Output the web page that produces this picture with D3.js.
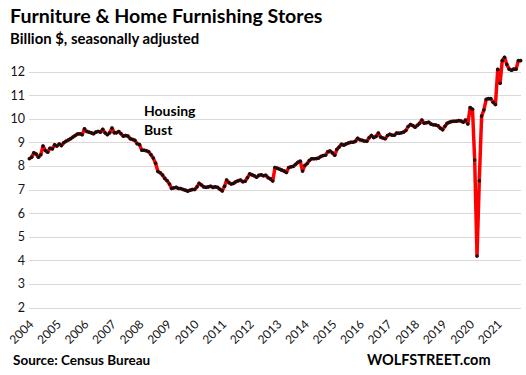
<!DOCTYPE html>
<html>
<head>
<meta charset="utf-8">
<script src="https://cdn.jsdelivr.net/npm/d3@7"></script>
<style>
  body { margin: 0; background: #fff; }
  svg text { font-family: Lato, "Open Sans", sans-serif; }
</style>
</head>
<body>
<div id="chart"></div>
<script>
// monthly sales, Jan 2004 .. Nov 2021, billion $
var startMonth = new Date(2004, 0, 1);
var sales = [
  8.30, 8.37, 8.55, 8.50, 8.37, 8.47, 8.84, 8.65, 8.58, 8.75, 8.72, 8.89,   // 2004
  8.84, 8.93, 8.86, 8.98, 9.04, 9.10, 9.15, 9.22, 9.29, 9.35, 9.36, 9.32,   // 2005
  9.57, 9.46, 9.43, 9.40, 9.36, 9.43, 9.46, 9.43, 9.55, 9.40, 9.32, 9.40,   // 2006
  9.60, 9.40, 9.40, 9.46, 9.36, 9.26, 9.29, 9.26, 9.15, 9.12, 9.08, 8.94,   // 2007
  8.90, 8.66, 8.66, 8.64, 8.60, 8.47, 8.33, 8.11, 7.76, 7.71, 7.61, 7.47,   // 2008
  7.37, 7.23, 7.04, 7.07, 7.09, 7.04, 7.04, 7.00, 6.97, 6.93, 6.97, 7.00,   // 2009
  7.00, 7.11, 7.26, 7.19, 7.11, 7.09, 7.11, 7.14, 7.09, 7.11, 7.09, 7.01,   // 2010
  6.94, 7.14, 7.40, 7.29, 7.23, 7.26, 7.33, 7.37, 7.40, 7.33, 7.35, 7.50,   // 2011
  7.66, 7.62, 7.58, 7.52, 7.60, 7.62, 7.58, 7.60, 7.50, 7.45, 7.36, 7.93,   // 2012
  7.90, 7.86, 7.82, 7.78, 7.72, 7.93, 7.96, 7.98, 8.07, 8.15, 8.20, 7.78,   // 2013
  8.02, 8.10, 8.23, 8.30, 8.30, 8.31, 8.33, 8.40, 8.44, 8.45, 8.60, 8.63,   // 2014
  8.55, 8.45, 8.70, 8.80, 8.92, 8.88, 8.93, 8.97, 9.00, 9.00, 9.04, 9.17,   // 2015
  9.11, 9.08, 9.05, 9.04, 9.19, 9.29, 9.20, 9.25, 9.39, 9.22, 9.18, 9.15,   // 2016
  9.29, 9.34, 9.30, 9.30, 9.39, 9.38, 9.40, 9.43, 9.50, 9.67, 9.75, 9.71,   // 2017
  9.64, 9.72, 9.80, 9.94, 9.81, 9.83, 9.85, 9.77, 9.74, 9.73, 9.70, 9.60,   // 2018
  9.53, 9.68, 9.80, 9.85, 9.88, 9.89, 9.89, 9.92, 9.90, 9.85, 9.94, 9.78,   // 2019
  10.47, 10.40, 8.25, 4.18, 7.37, 10.11, 10.37, 10.82, 10.85, 10.85, 10.70, 10.60, // 2020
  12.09, 11.50, 12.46, 12.60, 12.30, 12.10, 12.05, 12.10, 12.10, 12.46, 12.46      // 2021
];
var yTicks = [2, 3, 4, 5, 6, 7, 8, 9, 10, 11, 12];
var yearLabels = [2004, 2005, 2006, 2007, 2008, 2009, 2010, 2011, 2012,
                  2013, 2014, 2015, 2016, 2017, 2018, 2019, 2020, 2021];

var width = 526, height = 375;

var data = sales.map(function(v, i) {
  return { date: d3.timeMonth.offset(startMonth, i), value: v };
});

var x = d3.scaleTime()
  .domain([startMonth, data[data.length - 1].date])
  .range([29.3, 520.7]);
var y = d3.scaleLinear()
  .domain([2, 12])
  .range([307.5, 71.5]);

var svg = d3.select("#chart").append("svg")
  .attr("width", width)
  .attr("height", height);

// gridlines
svg.append("g").selectAll("line")
  .data(yTicks)
  .enter()
  .append("line")
  .attr("x1", 29)
  .attr("x2", 521)
  .attr("y1", function(d) { return Math.round(y(d)) + 0.5; })
  .attr("y2", function(d) { return Math.round(y(d)) + 0.5; })
  .attr("stroke", "#d9d9d9")
  .attr("stroke-width", 1);

// y labels
svg.append("g").selectAll("text")
  .data(yTicks)
  .enter()
  .append("text")
  .attr("x", 25)
  .attr("y", function(d) { return y(d) + 4.5; })
  .attr("text-anchor", "end")
  .attr("font-size", 12.5)
  .attr("fill", "#141414")
  .text(function(d) { return d; });

// x labels, rotated
svg.append("g").selectAll("text")
  .data(yearLabels)
  .enter()
  .append("text")
  .attr("transform", function(d) {
    return "translate(" + (x(new Date(d, 0, 1)) + 5) + ",325) rotate(-45)";
  })
  .attr("text-anchor", "end")
  .attr("font-size", 12)
  .attr("fill", "#141414")
  .text(function(d) { return d; });

// series
var line = d3.line()
  .x(function(d) { return x(d.date); })
  .y(function(d) { return y(d.value); });

svg.append("path")
  .datum(data)
  .attr("d", line)
  .attr("fill", "none")
  .attr("stroke", "#ff0000")
  .attr("stroke-width", 3.5)
  .attr("stroke-linejoin", "round");

svg.append("g").selectAll("circle")
  .data(data)
  .enter()
  .append("circle")
  .attr("cx", function(d) { return x(d.date); })
  .attr("cy", function(d) { return y(d.value); })
  .attr("r", 1.8)
  .attr("fill", "#111");

// texts
svg.append("text")
  .attr("x", 10).attr("y", 23)
  .attr("font-size", 19.6).attr("font-weight", "bold")
  .text("Furniture & Home Furnishing Stores");
svg.append("text")
  .attr("x", 10).attr("y", 43.5)
  .attr("font-size", 14.9).attr("font-weight", "bold")
  .text("Billion $, seasonally adjusted");

svg.append("text")
  .attr("x", 144).attr("y", 116)
  .attr("font-size", 14).attr("font-weight", "bold")
  .text("Housing");
svg.append("text")
  .attr("x", 144).attr("y", 135)
  .attr("font-size", 14).attr("font-weight", "bold")
  .text("Bust");

svg.append("text")
  .attr("x", 13).attr("y", 365)
  .attr("font-size", 13.5).attr("font-weight", "bold")
  .text("Source: Census Bureau");
svg.append("text")
  .attr("x", 367).attr("y", 365)
  .attr("font-size", 14.5).attr("font-weight", "bold")
  .text("WOLFSTREET.com");
</script>
</body>
</html>
